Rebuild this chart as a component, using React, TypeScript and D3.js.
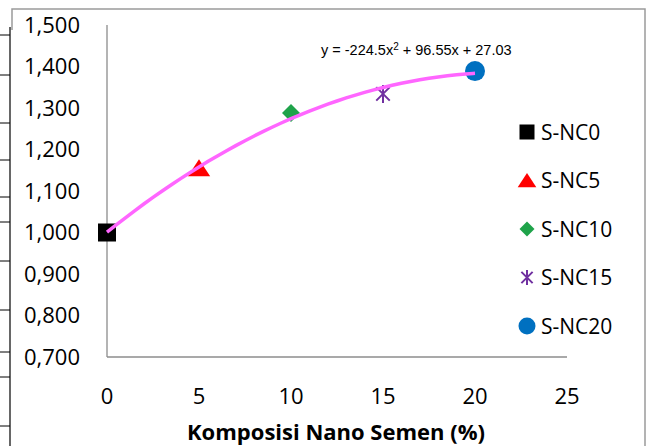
import React from "react";
import * as d3 from "d3";

// data
const series = ["S-NC0", "S-NC5", "S-NC10", "S-NC15", "S-NC20"];
const xValues = [0, 5, 10, 15, 20];
const yValues = [1.0, 1.155, 1.288, 1.334, 1.389];
const shapes = ["square", "triangle", "diamond", "star", "circle"];
const colors = ["#000000", "#ff0000", "#1fa34a", "#7030a0", "#0070c0"];
const yTicks = [0.7, 0.8, 0.9, 1.0, 1.1, 1.2, 1.3, 1.4, 1.5];
const xTicks = [0, 5, 10, 15, 20, 25];
const trendLabel = ["y = -224.5x", "2", " + 96.55x + 27.03"];
const xTitle = "Komposisi Nano Semen (%)";
// stray table borders at the left edge of the picture
const edgeLines = [35, 75, 123, 160, 197, 222, 261, 310, 352, 377, 426];

const W = 648;
const H = 446;
const font = "'Open Sans', sans-serif";

// least squares quadratic through the points (for the trendline)
function quadFit(xs: number[], ys: number[]) {
  const n = xs.length;
  let s = [0, 0, 0, 0, 0];
  let t = [0, 0, 0];
  for (let i = 0; i < n; i++) {
    for (let k = 0; k < 5; k++) s[k] += Math.pow(xs[i], k);
    for (let k = 0; k < 3; k++) t[k] += ys[i] * Math.pow(xs[i], k);
  }
  const A = [
    [s[0], s[1], s[2], t[0]],
    [s[1], s[2], s[3], t[1]],
    [s[2], s[3], s[4], t[2]],
  ];
  for (let i = 0; i < 3; i++) {
    for (let j = i + 1; j < 3; j++) {
      const f = A[j][i] / A[i][i];
      for (let k = i; k < 4; k++) A[j][k] -= f * A[i][k];
    }
  }
  const c = [0, 0, 0];
  for (let i = 2; i >= 0; i--) {
    let v = A[i][3];
    for (let k = i + 1; k < 3; k++) v -= A[i][k] * c[k];
    c[i] = v / A[i][i];
  }
  return (x: number) => c[0] + c[1] * x + c[2] * x * x;
}

function Marker({ shape, color, x, y, size }: any) {
  const h = size / 2;
  if (shape === "square")
    return <rect x={x - h} y={y - h} width={size} height={size} fill={color} />;
  if (shape === "circle") return <circle cx={x} cy={y} r={h + 1} fill={color} />;
  if (shape === "diamond")
    return <path d={`M${x},${y - h}L${x + h},${y}L${x},${y + h}L${x - h},${y}Z`} fill={color} />;
  if (shape === "star") {
    const a = h * 0.75;
    return (
      <path
        d={`M${x},${y - h}V${y + h}M${x - a},${y - a}L${x + a},${y + a}M${x + a},${y - a}L${x - a},${y + a}`}
        fill="none"
        stroke={color}
        strokeWidth={2}
      />
    );
  }
  // triangle
  const w = size * 0.62;
  return <path d={`M${x},${y - h}L${x + w},${y + h * 0.9}L${x - w},${y + h * 0.9}Z`} fill={color} />;
}

export default function App() {
  const margin = { left: 107, right: 81, top: 25, bottom: 89 };
  const xScale = d3.scaleLinear().domain([0, 25]).range([margin.left, W - margin.right]);
  const yScale = d3.scaleLinear().domain([0.7, 1.5]).range([H - margin.bottom, margin.top]);
  const fit = quadFit(xValues, yValues);
  const curve = d3
    .line<number>()
    .x((d) => xScale(d))
    .y((d) => yScale(fit(d)))
    .curve(d3.curveMonotoneX)(d3.range(0, 20.01, 0.5));

  return (
    <svg width={W} height={H} style={{ position: "absolute", left: 0, top: 0, background: "#fff" }}>
      {/* outer frame */}
      <path d={`M12,30 V9 H645 V${H}`} fill="none" stroke="#9a9a9a" strokeWidth={1.5} />
      <line x1={10} x2={10} y1={27} y2={H} stroke="#000" strokeWidth={1.2} />
      {edgeLines.map((y, i) => (
        <line key={i} x1={0} x2={10} y1={y} y2={y} stroke="#000" strokeWidth={1} />
      ))}

      {/* axes */}
      <line x1={xScale(0)} x2={xScale(0)} y1={yScale(1.5)} y2={yScale(0.7)} stroke="#8c8c8c" strokeWidth={1.3} />
      <line x1={xScale(0)} x2={xScale(25)} y1={yScale(0.7)} y2={yScale(0.7)} stroke="#8c8c8c" strokeWidth={1.3} />
      {yTicks.map((t) => (
        <text key={t} x={80} y={yScale(t)} dy="0.36em" textAnchor="end" fontFamily={font} fontSize={22} fill="#000">
          {d3.format(".3f")(t).replace(".", ",")}
        </text>
      ))}
      {xTicks.map((t) => (
        <text key={t} x={xScale(t)} y={396} dy="0.36em" textAnchor="middle" fontFamily={font} fontSize={22} fill="#000">
          {t}
        </text>
      ))}
      <text x={336} y={432} dy="0.36em" textAnchor="middle" fontFamily={font} fontSize={22} fontWeight="bold" fill="#000">
        {xTitle}
      </text>

      {/* points */}
      {xValues.map((x, i) => (
        <Marker key={i} shape={shapes[i]} color={colors[i]} x={xScale(x)} y={yScale(yValues[i])} size={18} />
      ))}

      {/* trendline */}
      <path d={curve as string} fill="none" stroke="#ff66ff" strokeWidth={3.5} />
      <text x={321} y={50} dy="0.35em" fontFamily="'Liberation Sans', Arial, sans-serif" fontSize={14.5} fill="#000">
        {trendLabel[0]}
        <tspan fontSize={10} dy="-5">{trendLabel[1]}</tspan>
        <tspan dy="5">{trendLabel[2]}</tspan>
      </text>

      {/* legend */}
      {series.map((s, i) => (
        <g key={s}>
          <Marker shape={shapes[i]} color={colors[i]} x={527} y={132 + i * 48.5} size={15} />
          <text x={541} y={132 + i * 48.5} dy="0.36em" fontFamily={font} fontSize={21} fill="#000">
            {s}
          </text>
        </g>
      ))}
    </svg>
  );
}
